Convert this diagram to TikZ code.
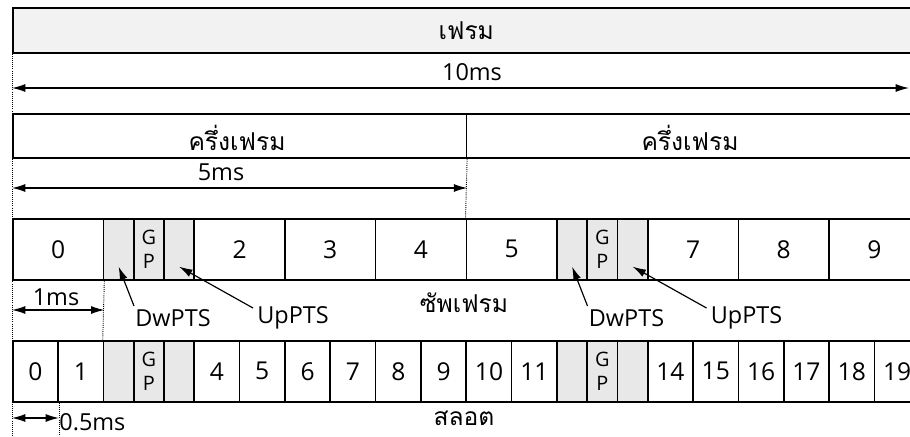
\documentclass[tikz,border=0pt]{standalone}
\usepackage{fontspec}
\setmainfont{Open Sans}
\newfontfamily\thaifont[Script=Thai]{Loma}
\usetikzlibrary{calc,arrows.meta}
\definecolor{framegray}{HTML}{F2F2F2}
\definecolor{ptsgray}{HTML}{E8E8E8}
\tikzset{
% Boxes of the frame: plain and shaded
cell/.style={rectangle,draw,line width=1.4pt,inner sep=0,anchor=north west,
  minimum height=18.3mm,font=\fontsize{21}{23}\selectfont},
pts cell/.style={cell,fill=ptsgray,minimum width=9.07mm,align=center,
  font=\fontsize{17}{20}\selectfont},
% Durations, pointers and guide lines
dim/.style={{Latex[length=4mm,width=2.4mm]}-{Latex[length=4mm,width=2.4mm]},line width=1pt},
pointer/.style={-{Latex[length=4mm,width=2.4mm]},line width=1pt},
guide/.style={densely dotted,line width=0.8pt},
lbl/.style={inner sep=1pt,font=\fontsize{20}{22}\selectfont},
thai/.style={inner sep=0pt,font=\fontsize{21}{24}\thaifont}
}

\begin{document}
\begin{tikzpicture}[x=0.3mm,y=-0.3mm]
  \useasboundingbox (0,0) rectangle (910,436);
  \clip (0,0) rectangle (910,436);
  % frame and half frames
  \node[cell,fill=framegray,minimum width=272.1mm,minimum height=13.5mm] (frame) at (12,7) {};
  \node[thai] at (frame.center) {เฟรม};
  \node[cell,minimum width=136.05mm,minimum height=13.2mm] (half1) at (12,113) {};
  \node[cell,minimum width=136.05mm,minimum height=13.2mm] (half2) at (465.5,113) {};
  \node[thai] (halflbl1) at (237,138) {ครึ่งเฟรม};
  \node[thai] (halflbl2) at (690,138) {ครึ่งเฟรม};
  \coordinate (bottom) at (12,436);
  \coordinate (start10) at (12,88);
  \coordinate (end10) at (909,88);
  \coordinate (start5) at (12,188);
  \draw[dim] (start10) -- (end10);
  \node[lbl] (lbl10) at (472,72) {10ms};
  \draw[dim] (start5) -- (half1.south east |- start5);
  \node[lbl] (lbl5) at (221,172) {5ms};
  % subframes
  \foreach \i in {0,2,3,4,5,7,8,9}
    \node[cell,minimum width=27.21mm] (sub\i) at ({12+90.7*\i},218) {\i};
  \foreach \i in {1,6} {
    \node[pts cell] (dw\i) at ({12+90.7*\i},218) {};
    \node[pts cell] (gp\i) at ({42.23+90.7*\i},218) {G\\P};
    \node[pts cell] (up\i) at ({72.47+90.7*\i},218) {};
  }
  % slots
  \foreach \j in {0,1,4,5,6,7,8,9,10,11,14,15,16,17,18,19}
    \node[cell,minimum width=13.6mm] (slot\j) at ({12+45.35*\j},340) {\j};
  \foreach \i in {1,6} {
    \node[pts cell] (dws\i) at ({12+90.7*\i},340) {};
    \node[pts cell] (gps\i) at ({42.23+90.7*\i},340) {G\\P};
    \node[pts cell] (ups\i) at ({72.47+90.7*\i},340) {};
  }
  % DwPTS and UpPTS pointers
  \foreach \i in {1,6} {
    \node[lbl,anchor=west] (dwl\i) at ({134+90.7*(\i-1)},318) {DwPTS};
    \draw[pointer] ($(dwl\i.west)+(0,-12)$) -- ($(dw\i.south)+(0,-14)$);
    \node[lbl,anchor=west] (upl\i) at ({256+90.7*(\i-1)},318) {UpPTS};
    \draw[pointer] ($(upl\i.west)+(-3,-10)$) -- ($(up\i.south)+(0,-14)$);
  }
  \node[thai] (sublbl) at (464,303) {ซัพเฟรม};
  \coordinate (start1) at (12,310);
  \draw[dim] (start1) -- (sub0.south east |- start1);
  \node[lbl] (lbl1) at (56,297) {1ms};
  \coordinate (starthalf) at (12,418);
  \draw[dim] (starthalf) -- (slot0.south east |- starthalf);
  \node[lbl,anchor=west] (halfms) at (58,422) {0.5ms};
  \node[thai] (slotlbl) at (464,418) {สลอต};
  % dotted guides
  \draw[guide] (frame.south west) -- (bottom);
  \draw[guide] (half1.south east) -- (sub5.north west);
  \draw[guide] (sub0.south east) -- (dws1.north west);
  \draw[guide] (slot0.south east) -- (slot0.south east |- bottom);
\end{tikzpicture}
\end{document}
